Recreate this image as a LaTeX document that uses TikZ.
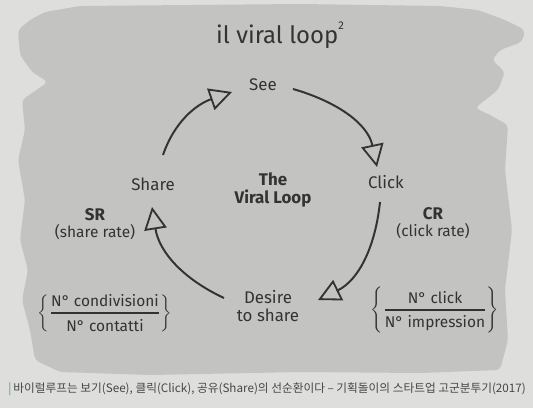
\documentclass[tikz,border=0pt]{standalone}
\usepackage{amsmath}
\usepackage{fontspec}
\setmainfont{Fira Sans}
\newfontfamily\kofont{Noto Sans CJK KR}
\usetikzlibrary{arrows.meta}
\definecolor{paper}{HTML}{DEDEDC}
\definecolor{brush}{HTML}{C3C3C1}
\definecolor{ink}{HTML}{333333}
\definecolor{barblue}{HTML}{4A93B4}
\tikzset{
	stage/.style={text=ink, font=\fontsize{12}{13}\selectfont, align=center},
	ratio/.style={text=ink, font=\fontsize{11}{12}\selectfont, align=center},
	cycle arc/.style={draw=ink, line width=1.4pt, -{Triangle[open, length=16pt, width=16pt, line width=1.3pt]}},
}

\begin{document}
\begin{tikzpicture}[x=0.025cm, y=0.025cm]
			%%%%% START %%%%%
			
			\useasboundingbox (0, 0) rectangle (533, 408);
			\fill[paper] (0, 0) rectangle (533, 408);
			
			% brushed grey patch
			\fill[brush, rounded corners=3pt] (45, 396) -- (80, 402) -- (300, 404) -- (440, 402) -- (478, 398)
				-- (505, 388) -- (525, 378) -- (522, 366) -- (500, 358) -- (492, 348) -- (505, 336)
				-- (498, 318) -- (475, 300) -- (490, 293) -- (508, 283) -- (505, 238) -- (512, 178)
				-- (505, 118) -- (508, 68) -- (500, 38) -- (420, 35) -- (300, 36) -- (150, 33)
				-- (60, 36) -- (35, 48) -- (30, 78) -- (22, 108) -- (28, 138) -- (20, 168)
				-- (25, 208) -- (18, 248) -- (25, 278) -- (22, 308) -- (48, 326) -- (32, 336)
				-- (20, 353) -- (18, 378) -- (30, 388) -- cycle;
			
			\node[text=ink, font=\fontsize{17}{18}\selectfont] (title) at (280, 373) {il viral loop\raisebox{1.1ex}{\fontsize{8}{9}\selectfont 2}};
			
			\node[stage] (see) at (263, 323) {See};
			\node[stage] (click) at (386, 226) {Click};
			\node[stage] (desire) at (268, 102) {Desire\\to share};
			\node[stage] (share) at (153, 224) {Share};
			\node[stage, font=\bfseries\fontsize{12}{13}\selectfont] (viral) at (273, 218) {The\\Viral Loop};
			
			\node[ratio] (sr) at (95, 184) {\textbf{\fontsize{12}{13}\selectfont SR}\\(share rate)};
			\node[ratio] (cr) at (433, 185) {\textbf{\fontsize{12}{13}\selectfont CR}\\(click rate)};
			
			\node[ratio] (srfrac) at (105, 95) {$\left\{\genfrac{}{}{1.2pt}{0}{\text{N° condivisioni}}{\text{N° contatti}}\right\}$};
			\node[ratio] (crfrac) at (435, 98) {$\left\{\genfrac{}{}{1.2pt}{0}{\text{N° click}}{\text{N° impression}}\right\}$};
			
			% the loop
			\draw[cycle arc] ([shift={(30, -4)}]see.center) to[out=-16, in=102] ([shift={(-9, 15)}]click.center);
			\draw[cycle arc] ([shift={(-6, -20)}]click.center) to[out=-96, in=26] ([shift={(50, 6)}]desire.center);
			\draw[cycle arc] ([shift={(-44, 8)}]desire.center) to[out=155, in=-81] ([shift={(-1, -23)}]share.center);
			\draw[cycle arc] ([shift={(10, 29)}]share.center) to[out=71, in=199] ([shift={(-31, -7)}]see.center);
			
			\node[anchor=west, text=ink!90, font=\kofont\fontsize{8.3}{10}\selectfont, inner sep=0pt] (caption) at (8, 19)
				{\textcolor{barblue}{|}\,바이럴루프는 보기(See), 클릭(Click), 공유(Share)의 선순환이다 – 기획돌이의 스타트업 고군분투기(2017)};
			
			%%%%% END %%%%%
\end{tikzpicture}
\end{document}
